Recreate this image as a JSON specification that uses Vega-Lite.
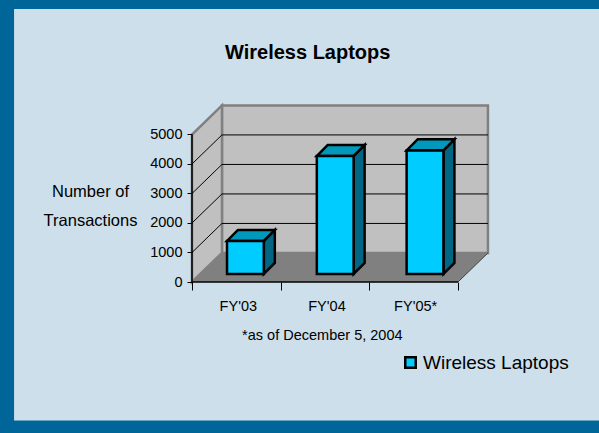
{
"$schema":"https://vega.github.io/schema/vega-lite/v6.json",
"width":297,"height":175,
"autosize":{"type":"none"},
"padding":{"left":192,"top":107,"right":110,"bottom":151},
"background":"#006699",
"config":{"view":{"stroke":null},"font":"Liberation Sans","text":{"font":"Liberation Sans"},"axis":{"labelOverlap":false,"labelBound":false},"axisY":{"values":[0,1000,2000,3000,4000,5000],"tickCount":6}},
"title":{"text":"Wireless Laptops","font":"Liberation Sans","fontSize":20,"fontWeight":"bold","color":"#000000","anchor":"start","frame":"group","dx":33,"dy":54,"offset":0,"zindex":1},
"datasets":{
"bars":[
{"category":"FY'03","series":"Wireless Laptops","transactions":1120},
{"category":"FY'04","series":"Wireless Laptops","transactions":4000},
{"category":"FY'05*","series":"Wireless Laptops","transactions":4190}],
"levels":[{"level":1000},{"level":2000},{"level":3000},{"level":4000}],
"depth":[{"d":0},{"d":1}]
},
"layer":[
{"data":{"values":[{}]},"mark":{"type":"rect","color":"#CCDFEB"},
"encoding":{
"x":{"datum":-2.007,"type":"quantitative","scale":{"domain":[0,3.35],"nice":false,"zero":false},
"axis":{"values":[0,1,2,3],"grid":false,"domain":false,"labels":false,"ticks":true,"tickSize":8,"tickColor":"#000000","tickWidth":1,"title":null,"zindex":1}},
"x2":{"datum":4.6},
"y":{"datum":9252,"type":"quantitative","scale":{"domain":[0,5932],"nice":false,"zero":false},
"axis":{"values":[0,1000,2000,3000,4000,5000],"tickCount":6,"format":"d","labelOverlap":false,"grid":false,"domain":false,"tickSize":5,"tickColor":"#000000","tickWidth":1,"labelFont":"Liberation Sans","labelFontSize":14.5,"labelColor":"#000000","labelPadding":5,
"title":["Number of","Transactions"],"titleFont":"Liberation Sans","titleFontSize":16.5,"titleFontWeight":"normal","titleColor":"#000000","titleAngle":0,"titleAlign":"center","titleBaseline":"middle","titleX":-102,"titleY":84,"titleLineHeight":29,"zindex":1}},
"y2":{"datum":-4694}}},
{"data":{"values":[{}]},"mark":{"type":"rect","fill":"#C0C0C0","stroke":"#808080","strokeWidth":2.5},
"encoding":{"x":{"datum":0.338,"type":"quantitative"},"x2":{"datum":3.338},"y":{"datum":985,"type":"quantitative"},"y2":{"datum":5985}}},
{"data":{"name":"depth"},
"transform":[{"calculate":"datum.d*0.338","as":"wx"},{"calculate":"datum.d*985","as":"wy"},{"calculate":"5000+datum.d*985","as":"wy2"}],
"mark":{"type":"area","orient":"vertical","fill":"#C0C0C0","stroke":"#808080","strokeWidth":2.5},
"encoding":{"x":{"field":"wx","type":"quantitative"},"y":{"field":"wy","type":"quantitative","stack":null},"y2":{"field":"wy2"}}},
{"data":{"name":"depth"},
"transform":[{"calculate":"datum.d*0.338","as":"wx"},{"calculate":"3+datum.d*0.338","as":"wx2"},{"calculate":"datum.d*985","as":"wy"}],
"mark":{"type":"area","orient":"horizontal","fill":"#808080"},
"encoding":{"x":{"field":"wx","type":"quantitative","stack":null},"x2":{"field":"wx2"},"y":{"field":"wy","type":"quantitative"}}},
{"data":{"name":"levels"},
"transform":[{"calculate":"datum.level+985","as":"backLevel"}],
"mark":{"type":"rule","color":"#000000","strokeWidth":1},
"encoding":{"x":{"datum":0,"type":"quantitative"},"x2":{"datum":0.338},"y":{"field":"level","type":"quantitative"},"y2":{"field":"backLevel"}}},
{"data":{"name":"levels"},
"transform":[{"calculate":"datum.level+985","as":"backLevel"}],
"mark":{"type":"rule","color":"#000000","strokeWidth":1},
"encoding":{"x":{"datum":0.338,"type":"quantitative"},"x2":{"datum":3.338},"y":{"field":"backLevel","type":"quantitative"}}},
{"data":{"values":[{}]},"mark":{"type":"rule","color":"#404040","strokeWidth":1},
"encoding":{"x":{"datum":3,"type":"quantitative"},"x2":{"datum":3.338},"y":{"datum":0,"type":"quantitative"},"y2":{"datum":985}}},
{"data":{"values":[{}]},"mark":{"type":"rule","color":"#000000","strokeWidth":1.5},
"encoding":{"x":{"datum":0,"type":"quantitative"},"y":{"datum":0,"type":"quantitative"},"y2":{"datum":5000}}},
{"data":{"values":[{}]},"mark":{"type":"rule","color":"#000000","strokeWidth":1.5},
"encoding":{"x":{"datum":0,"type":"quantitative"},"x2":{"datum":3},"y":{"datum":0,"type":"quantitative"}}},
{"data":{"name":"bars"},
"transform":[{"window":[{"op":"row_number","as":"n"}]},
{"calculate":"0.395+(datum.n-1)*1.013","as":"left"},{"calculate":"datum.left+0.415","as":"right"},{"calculate":"datum.transactions+271","as":"top"},
{"calculate":"0","as":"near"},{"calculate":"1","as":"far"},{"fold":["near","far"],"as":["edge","d"]},
{"calculate":"datum.right+datum.d*0.124","as":"sx"},{"calculate":"datum.top+datum.d*374","as":"sy"},{"calculate":"271+datum.d*374","as":"sy2"}],
"mark":{"type":"area","orient":"vertical","fill":"#006684","stroke":"#000000","strokeWidth":2.5,"strokeJoin":"miter"},
"encoding":{"detail":{"field":"category"},"x":{"field":"sx","type":"quantitative"},"y":{"field":"sy","type":"quantitative","stack":null},"y2":{"field":"sy2"}}},
{"data":{"name":"bars"},
"transform":[{"window":[{"op":"row_number","as":"n"}]},
{"calculate":"0.395+(datum.n-1)*1.013","as":"left"},{"calculate":"datum.left+0.415","as":"right"},{"calculate":"datum.transactions+271","as":"top"},
{"calculate":"0","as":"near"},{"calculate":"1","as":"far"},{"fold":["near","far"],"as":["edge","d"]},
{"calculate":"datum.left+datum.d*0.124","as":"tx"},{"calculate":"datum.right+datum.d*0.124","as":"tx2"},{"calculate":"datum.top+datum.d*374","as":"ty"}],
"mark":{"type":"area","orient":"horizontal","fill":"#0099BB","stroke":"#000000","strokeWidth":2.5,"strokeJoin":"miter"},
"encoding":{"detail":{"field":"category"},"x":{"field":"tx","type":"quantitative","stack":null},"x2":{"field":"tx2"},"y":{"field":"ty","type":"quantitative"}}},
{"data":{"name":"bars"},
"transform":[{"window":[{"op":"row_number","as":"n"}]},
{"calculate":"0.395+(datum.n-1)*1.013","as":"left"},{"calculate":"datum.left+0.415","as":"right"},{"calculate":"datum.transactions+271","as":"top"},{"calculate":"271","as":"base"}],
"mark":{"type":"rect","stroke":"#000000","strokeWidth":2.5,"strokeJoin":"miter"},
"encoding":{"x":{"field":"left","type":"quantitative"},"x2":{"field":"right"},"y":{"field":"top","type":"quantitative"},"y2":{"field":"base"},
"fill":{"field":"series","type":"nominal","scale":{"range":["#00CCFF"]},
"legend":{"orient":"none","legendX":209,"legendY":246,"title":null,"padding":0,"symbolType":"square","symbolSize":110,"symbolStrokeColor":"#000000","symbolStrokeWidth":2.5,"symbolFillColor":"#00CCFF","labelFont":"Liberation Sans","labelFontSize":19,"labelColor":"#000000","labelOffset":3,"zindex":1}}}},
{"data":{"values":[{"pos":0.5,"label":"FY'03"},{"pos":1.5,"label":"FY'04"},{"pos":2.5,"label":"FY'05*"}]},
"mark":{"type":"text","font":"Liberation Sans","fontSize":14.5,"color":"#000000","dy":25,"dx":2},
"encoding":{"x":{"field":"pos","type":"quantitative"},"y":{"datum":0,"type":"quantitative"},"text":{"field":"label"}}},
{"data":{"values":[{"pos":1.47,"label":"*as of December 5, 2004"}]},
"mark":{"type":"text","font":"Liberation Sans","fontSize":14.5,"color":"#000000","dy":54},
"encoding":{"x":{"field":"pos","type":"quantitative"},"y":{"datum":0,"type":"quantitative"},"text":{"field":"label"}}}
]
}
